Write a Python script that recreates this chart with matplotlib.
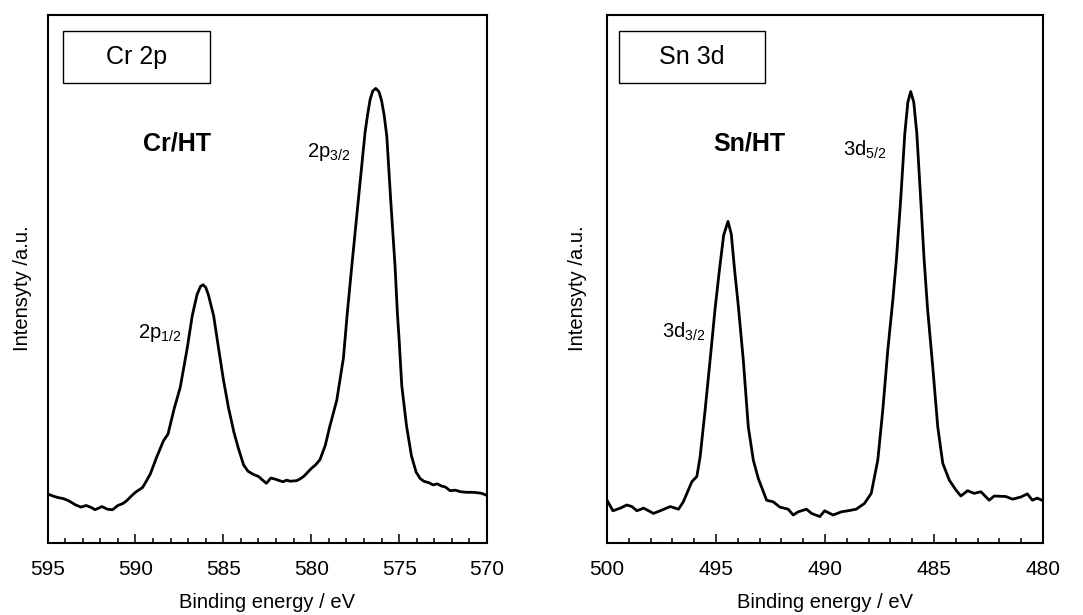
import numpy as np
import matplotlib
matplotlib.use("Agg")
import matplotlib.pyplot as plt
from matplotlib.patches import Rectangle
from matplotlib.ticker import MultipleLocator

plt.rcParams['font.family'] = ['Liberation Sans', 'DejaVu Sans']
plt.rcParams['mathtext.fontset'] = 'custom'
plt.rcParams['mathtext.rm'] = 'Liberation Sans'
plt.rcParams['mathtext.it'] = 'Liberation Sans:italic'

# Cr 2p spectrum (binding energy in eV, intensity in a.u.)
cr_energy = [595.0, 594.7, 594.4, 594.1, 593.8, 593.4, 593.1, 592.8, 592.5, 592.3,
             592.1, 591.9, 591.6, 591.3, 591.0, 590.7, 590.5, 590.2, 590.0, 589.6,
             589.4, 589.15, 588.8, 588.4, 588.15, 587.8, 587.45, 587.05, 586.77, 586.5,
             586.3, 586.15, 586.0, 585.85, 585.55, 585.3, 585.0, 584.7, 584.4, 584.15,
             583.85, 583.6, 583.3, 583.0, 582.8, 582.55, 582.3, 582.06, 581.8, 581.6,
             581.4, 581.2, 580.83, 580.6, 580.4, 580.2, 580.0, 579.75, 579.5, 579.2,
             578.95, 578.55, 578.17, 577.95, 577.7, 577.32, 576.94, 576.8, 576.65, 576.5,
             576.33, 576.15, 576.0, 575.85, 575.7, 575.48, 575.23, 575.1, 575.0, 574.85,
             574.58, 574.3, 574.03, 573.8, 573.6, 573.3, 573.07, 572.83, 572.6, 572.37,
             572.1, 571.8, 571.5, 571.15, 570.8, 570.5, 570.3, 570.0]
cr_intensity = [9.3, 8.9, 8.6, 8.4, 8.0, 7.2, 6.8, 7.1, 6.7, 6.3,
                6.6, 6.9, 6.4, 6.3, 7.1, 7.5, 8.0, 9.0, 9.6, 10.5,
                11.6, 13.1, 16.2, 19.4, 20.6, 25.4, 29.5, 37.0, 43.0, 47.0,
                48.6, 48.9, 48.4, 47.0, 43.0, 37.5, 31.0, 25.5, 21.0, 18.0,
                14.8, 13.6, 13.0, 12.6, 12.0, 11.3, 12.3, 12.1, 11.8, 11.6,
                11.9, 11.7, 11.8, 12.2, 12.7, 13.4, 14.1, 14.8, 15.8, 18.5,
                22.0, 27.0, 35.0, 43.5, 52.2, 65.0, 77.7, 81.0, 84.0, 85.6,
                86.1, 85.5, 83.8, 81.0, 77.0, 65.0, 52.3, 43.6, 38.5, 29.8,
                22.2, 16.5, 13.4, 12.2, 11.7, 11.4, 11.0, 11.2, 10.8, 10.6,
                9.9, 10.0, 9.7, 9.6, 9.6, 9.5, 9.4, 9.0]

# Sn 3d spectrum
sn_energy = [500.0, 499.73, 499.39, 499.09, 498.86, 498.63, 498.32, 497.87, 497.56, 497.1,
             496.72, 496.5, 496.11, 495.88, 495.73, 495.5, 495.27, 495.05, 494.85, 494.65,
             494.45, 494.3, 494.15, 493.98, 493.75, 493.52, 493.29, 493.06, 492.68, 492.38,
             492.07, 491.69, 491.46, 491.23, 490.85, 490.62, 490.24, 490.02, 489.63, 489.25,
             488.95, 488.57, 488.19, 487.88, 487.58, 487.35, 487.12, 486.89, 486.73, 486.53,
             486.34, 486.2, 486.07, 485.93, 485.79, 485.61, 485.46, 485.3, 485.06,
             484.83, 484.6, 484.3, 483.99, 483.77, 483.46, 483.16, 482.85, 482.47, 482.24,
             481.71, 481.4, 481.02, 480.72, 480.49, 480.27, 480.0]
sn_intensity = [8.1, 6.1, 6.6, 7.2, 6.9, 6.1, 6.6, 5.6, 6.1, 6.9,
                6.4, 7.8, 11.6, 12.6, 16.3, 25.2, 34.7, 44.1, 51.5, 58.3,
                60.9, 58.5, 51.8, 45.0, 34.7, 22.0, 15.7, 12.2, 8.1, 7.8,
                6.8, 6.4, 5.3, 5.9, 6.4, 5.6, 5.0, 6.1, 5.3, 5.9,
                6.1, 6.4, 7.5, 9.4, 15.7, 25.2, 36.6, 46.0, 53.5, 65.0,
                77.6, 83.5, 85.5, 83.5, 77.6, 65.0, 54.0, 44.5, 33.4,
                22.0, 15.1, 11.9, 10.0, 8.9, 9.9, 9.4, 9.7, 8.1, 8.9,
                8.8, 8.3, 8.7, 9.3, 8.1, 8.5, 8.0]

fig = plt.figure(figsize=(10.83, 6.15), dpi=100)
ax1 = fig.add_axes([0.0439, 0.1171, 0.4058, 0.8585])
ax2 = fig.add_axes([0.5605, 0.1171, 0.4026, 0.8585])


def style(ax, xmin, xmax):
    ax.set_xlim(xmin, xmax)
    ax.set_ylim(0, 100)
    ax.xaxis.set_major_locator(MultipleLocator(5))
    ax.xaxis.set_minor_locator(MultipleLocator(1))
    ax.tick_params(axis='x', which='major', direction='in', length=6.7, width=1.1,
                   labelsize=15, pad=12)
    ax.tick_params(axis='x', which='minor', direction='in', length=3.8, width=1.1)
    ax.set_yticks([])
    for s in ax.spines.values():
        s.set_linewidth(1.5)
    ax.set_xlabel('Binding energy / eV', fontsize=14.5, labelpad=10)


ax1.plot(cr_energy, cr_intensity, color='black', lw=2.0, solid_joinstyle='round')
style(ax1, 595, 570)
ax1.set_ylabel('Intensyty /a.u.', fontsize=14.5)
ax1.yaxis.set_label_coords(-0.035, 0.483)
ax1.add_patch(Rectangle((0.035, 0.871), 0.335, 0.099, transform=ax1.transAxes,
                        fill=False, lw=1.0, ec='black'))
ax1.text(0.2025, 0.92, 'Cr 2p', transform=ax1.transAxes, ha='center', va='center',
         fontsize=18)
ax1.text(0.294, 0.756, 'Cr/HT', transform=ax1.transAxes, ha='center', va='center',
         fontsize=18, fontweight='bold')
ax1.text(0.59, 0.731, r'2p$_{3/2}$', transform=ax1.transAxes, ha='left',
         va='baseline', fontsize=14.5)
ax1.text(0.206, 0.389, r'2p$_{1/2}$', transform=ax1.transAxes, ha='left',
         va='baseline', fontsize=14.5)

ax2.plot(sn_energy, sn_intensity, color='black', lw=2.0, solid_joinstyle='round')
style(ax2, 500, 480)
ax2.set_ylabel('Intensyty /a.u.', fontsize=14.5)
ax2.yaxis.set_label_coords(-0.046, 0.483)
ax2.add_patch(Rectangle((0.0275, 0.871), 0.3345, 0.099, transform=ax2.transAxes,
                        fill=False, lw=1.0, ec='black'))
ax2.text(0.195, 0.92, 'Sn 3d', transform=ax2.transAxes, ha='center', va='center',
         fontsize=18)
ax2.text(0.327, 0.757, 'Sn/HT', transform=ax2.transAxes, ha='center', va='center',
         fontsize=18, fontweight='bold')
ax2.text(0.541, 0.733, r'3d$_{5/2}$', transform=ax2.transAxes, ha='left',
         va='baseline', fontsize=14.5)
ax2.text(0.125, 0.389, r'3d$_{3/2}$', transform=ax2.transAxes, ha='left',
         va='baseline', fontsize=14.5)

fig.savefig('out.png', dpi=100)
